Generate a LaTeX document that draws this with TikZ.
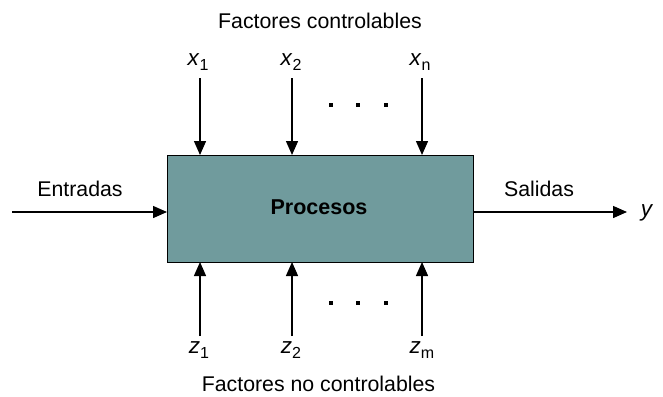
\documentclass[tikz,border=0pt]{standalone}
\usepackage{fontspec}
\setmainfont{Liberation Sans}
\usetikzlibrary{arrows.meta}
\definecolor{boxfill}{HTML}{709B9D}
\newcommand{\vsub}[2]{\textit{#1}\raisebox{-0.35ex}{\fontsize{16}{16}\selectfont #2}}
\begin{document}
\begin{tikzpicture}[x=1pt,y=-1pt,
  lbl/.style={font=\fontsize{21.3}{24}\selectfont, inner sep=0pt},
  var/.style={font=\fontsize{22.5}{24}\selectfont, inner sep=0pt},
  arr/.style={line width=1.4pt, -{Triangle[width=12pt,length=14pt]}},
  dotc/.style={fill=black, minimum size=3.5pt, inner sep=0pt, rectangle}]
\useasboundingbox (0,0) rectangle (663,396);
\node[draw=black, line width=1pt, fill=boxfill, minimum width=306pt, minimum height=107pt, inner sep=0pt] (proc) at (320,208.5) {};
\node[font=\bfseries\fontsize{21.5}{24}\selectfont] (ptext) at (319,207) {Procesos};
% top
\node[lbl] (tfac) at (320,21) {Factores controlables};
\node[var] (x1) at (198,62) {\vsub{x}{1}};
\node[var] (x2) at (291,62) {\vsub{x}{2}};
\node[var] (xn) at (420,62) {\vsub{x}{n}};
\coordinate (x1s) at (200,78);
\coordinate (x2s) at (292,78);
\coordinate (xns) at (422,78);
\coordinate (x1e) at (200,155);
\coordinate (x2e) at (292,155);
\coordinate (xne) at (422,155);
\draw[arr] (x1s) -- (x1e);
\draw[arr] (x2s) -- (x2e);
\draw[arr] (xns) -- (xne);
\node[dotc] (td1) at (331,105) {};
\node[dotc] (td2) at (358,105) {};
\node[dotc] (td3) at (386,105) {};
% bottom
\node[lbl] (bfac) at (318.5,384) {Factores no controlables};
\node[var] (z1) at (199,350) {\vsub{z}{1}};
\node[var] (z2) at (291,350) {\vsub{z}{2}};
\node[var] (zm) at (422,350) {\vsub{z}{m}};
\coordinate (z1s) at (200,336);
\coordinate (z2s) at (292,336);
\coordinate (zms) at (422,336);
\coordinate (z1e) at (200,262);
\coordinate (z2e) at (292,262);
\coordinate (zme) at (422,262);
\draw[arr] (z1s) -- (z1e);
\draw[arr] (z2s) -- (z2e);
\draw[arr] (zms) -- (zme);
\node[dotc] (bd1) at (331,303) {};
\node[dotc] (bd2) at (358,303) {};
\node[dotc] (bd3) at (386,303) {};
% sides
\node[lbl] (ent) at (80,189) {Entradas};
\node[lbl] (sal) at (539,189) {Salidas};
\coordinate (ins) at (12,212);
\coordinate (ine) at (167,212);
\coordinate (outs) at (473,212);
\coordinate (oute) at (627,212);
\draw[arr] (ins) -- (ine);
\draw[arr] (outs) -- (oute);
\node[var] (y) at (647,213) {\textit{y}};
\end{tikzpicture}
\end{document}
